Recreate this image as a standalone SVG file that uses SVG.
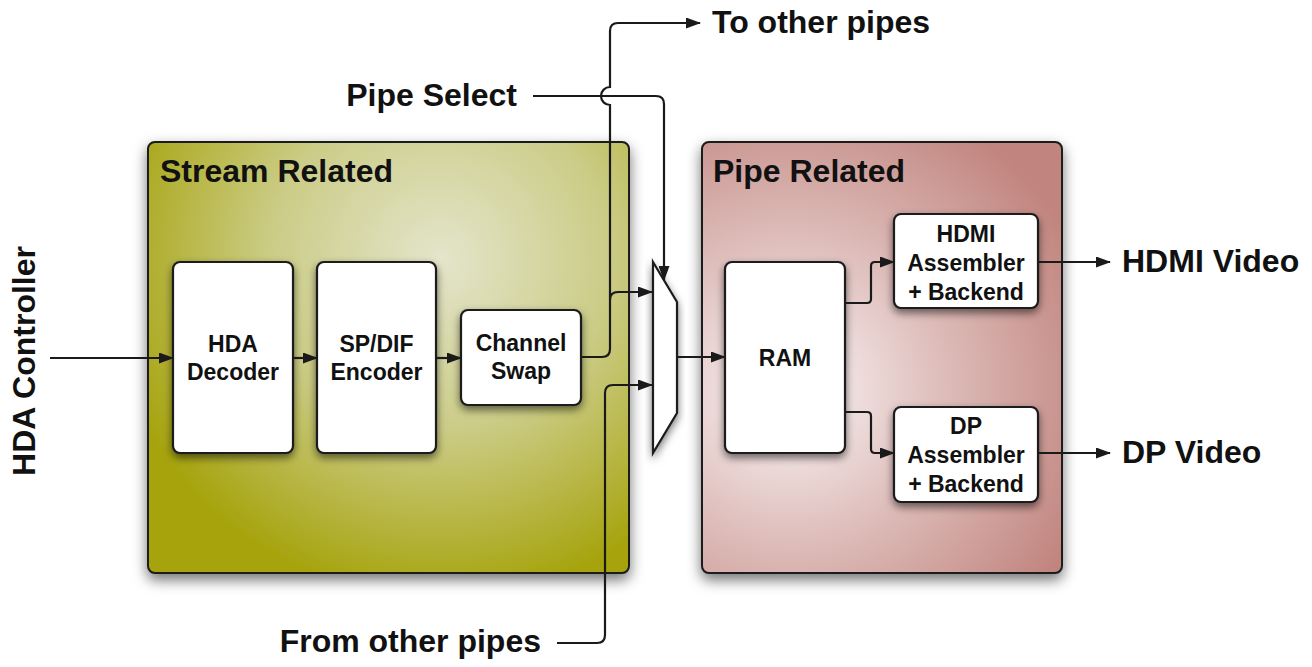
<svg xmlns="http://www.w3.org/2000/svg" width="1312" height="667" viewBox="0 0 1312 667">
<defs>
<style>
text{font-family:"Liberation Sans",Arial,Helvetica,sans-serif;font-weight:bold;fill:#111}
.big{font-size:32px}
.lbl{font-size:23px;text-anchor:middle}
.node{fill:#fff;stroke:#1a1a1a;stroke-width:2.2}
.cont{stroke:#1a1a1a;stroke-width:2}
.wire{fill:none;stroke:#1a1a1a;stroke-width:2.2}
.arr{marker-end:url(#ah)}
</style>
<marker id="ah" markerUnits="userSpaceOnUse" markerWidth="15" markerHeight="11" refX="14" refY="5.5" orient="auto">
<path d="M0,0 L15,5.5 L0,11 Z" fill="#1a1a1a"/>
</marker>
<radialGradient id="gStream" gradientUnits="userSpaceOnUse" cx="440" cy="260" r="340">
<stop offset="0" stop-color="#e4e5cb"/>
<stop offset="0.5" stop-color="#cbcc86"/>
<stop offset="1" stop-color="#a6a30c"/>
</radialGradient>
<radialGradient id="gPipe" gradientUnits="userSpaceOnUse" cx="790" cy="390" r="320">
<stop offset="0" stop-color="#fbf7f7"/>
<stop offset="0.5" stop-color="#dcbab7"/>
<stop offset="1" stop-color="#c1847e"/>
</radialGradient>
<filter id="shBig" x="-20%" y="-20%" width="140%" height="140%">
<feDropShadow dx="0" dy="6" stdDeviation="7" flood-color="#000" flood-opacity="0.55"/>
</filter>
<filter id="sh" x="-30%" y="-30%" width="160%" height="160%">
<feDropShadow dx="0" dy="4" stdDeviation="4" flood-color="#000" flood-opacity="0.55"/>
</filter>
</defs>
<rect width="1312" height="667" fill="#fff"/>

<g id="stream-related">
<rect class="cont" x="148" y="142" width="481" height="431" rx="7" fill="url(#gStream)" filter="url(#shBig)"/>
<text class="big" x="160" y="182">Stream Related</text>
</g>
<g id="pipe-related">
<rect class="cont" x="702" y="142" width="360" height="431" rx="7" fill="url(#gPipe)" filter="url(#shBig)"/>
<text class="big" x="713" y="182">Pipe Related</text>
</g>

<g id="hda-decoder">
<rect class="node" x="173" y="262" width="120" height="191" rx="7" filter="url(#sh)"/>
<text class="lbl" x="233" y="352">HDA</text>
<text class="lbl" x="233" y="380">Decoder</text>
</g>
<g id="spdif-encoder">
<rect class="node" x="317" y="262" width="119" height="191" rx="7" filter="url(#sh)"/>
<text class="lbl" x="376.5" y="352">SP/DIF</text>
<text class="lbl" x="376.5" y="380">Encoder</text>
</g>
<g id="channel-swap">
<rect class="node" x="461" y="310" width="120" height="95" rx="7" filter="url(#sh)"/>
<text class="lbl" x="521" y="351">Channel</text>
<text class="lbl" x="521" y="379">Swap</text>
</g>
<g id="mux">
<polygon class="node" points="653,262 677,302 677,413 653,453" filter="url(#sh)"/>
</g>
<g id="ram">
<rect class="node" x="725" y="262" width="120" height="191" rx="7" filter="url(#sh)"/>
<text class="lbl" x="785" y="366">RAM</text>
</g>
<g id="hdmi-assembler">
<rect class="node" x="894" y="214" width="144" height="94" rx="7" filter="url(#sh)"/>
<text class="lbl" x="966" y="242">HDMI</text>
<text class="lbl" x="966" y="271">Assembler</text>
<text class="lbl" x="966" y="300">+ Backend</text>
</g>
<g id="dp-assembler">
<rect class="node" x="894" y="407" width="144" height="95" rx="7" filter="url(#sh)"/>
<text class="lbl" x="966" y="434">DP</text>
<text class="lbl" x="966" y="463">Assembler</text>
<text class="lbl" x="966" y="492">+ Backend</text>
</g>

<g id="labels">
<text class="big" transform="translate(35,361) rotate(-90)" text-anchor="middle">HDA Controller</text>
<text class="big" x="517" y="106" text-anchor="end">Pipe Select</text>
<text class="big" x="712" y="33">To other pipes</text>
<text class="big" x="1122" y="272">HDMI Video</text>
<text class="big" x="1122" y="463">DP Video</text>
<text class="big" x="541" y="652" text-anchor="end">From other pipes</text>
</g>

<g id="connectors">
<path class="wire arr" d="M50,358 H173"/>
<path class="wire arr" d="M293,358 H317"/>
<path class="wire arr" d="M436,358 H461"/>
<path class="wire arr" d="M581,357 H602 Q610,357 610,349 V105 A9,9 0 0 1 610,87 V31 Q610,23 618,23 H700"/>
<path class="wire arr" d="M610,300 Q610,292 618,292 H652"/>
<path class="wire arr" d="M533,96 H656 Q664,96 664,104 V280"/>
<path class="wire arr" d="M557,643 H597 Q605,643 605,635 V393 Q605,385 613,385 H652"/>
<path class="wire arr" d="M677,357 H725"/>
<path class="wire arr" d="M845,303 H867 Q871,303 871,299 V266 Q871,262 875,262 H894"/>
<path class="wire arr" d="M845,412 H867 Q871,412 871,416 V449 Q871,453 875,453 H894"/>
<path class="wire arr" d="M1038,262 H1110"/>
<path class="wire arr" d="M1038,453 H1110"/>
</g>
</svg>
